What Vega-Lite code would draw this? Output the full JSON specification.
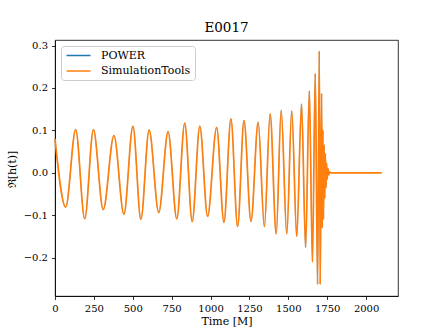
{
  "$schema": "https://vega.github.io/schema/vega-lite/v6.json",
  "autosize": "none",
  "width": 343,
  "height": 256,
  "padding": {"left": 55, "top": 40, "right": 45, "bottom": 36},
  "background": "white",
  "title": {"text": "E0017", "font": "DejaVu Serif", "fontSize": 13.5, "fontWeight": "normal", "color": "black", "offset": 6, "anchor": "middle"},
  "data": {"values": [
    {"t": 0, "POWER": 0.080, "SimulationTools": 0.080},
    {"t": 69, "POWER": -0.081, "SimulationTools": -0.081},
    {"t": 133, "POWER": 0.102, "SimulationTools": 0.102},
    {"t": 191, "POWER": -0.109, "SimulationTools": -0.109},
    {"t": 247, "POWER": 0.102, "SimulationTools": 0.102},
    {"t": 310, "POWER": -0.087, "SimulationTools": -0.087},
    {"t": 379, "POWER": 0.088, "SimulationTools": 0.088},
    {"t": 443, "POWER": -0.098, "SimulationTools": -0.098},
    {"t": 501, "POWER": 0.110, "SimulationTools": 0.110},
    {"t": 552, "POWER": -0.110, "SimulationTools": -0.110},
    {"t": 605, "POWER": 0.101, "SimulationTools": 0.101},
    {"t": 667, "POWER": -0.094, "SimulationTools": -0.094},
    {"t": 727, "POWER": 0.097, "SimulationTools": 0.097},
    {"t": 783, "POWER": -0.109, "SimulationTools": -0.109},
    {"t": 834, "POWER": 0.117, "SimulationTools": 0.117},
    {"t": 882, "POWER": -0.115, "SimulationTools": -0.115},
    {"t": 931, "POWER": 0.110, "SimulationTools": 0.110},
    {"t": 981, "POWER": -0.103, "SimulationTools": -0.103},
    {"t": 1039, "POWER": 0.107, "SimulationTools": 0.107},
    {"t": 1086, "POWER": -0.117, "SimulationTools": -0.117},
    {"t": 1131, "POWER": 0.127, "SimulationTools": 0.127},
    {"t": 1174, "POWER": -0.127, "SimulationTools": -0.127},
    {"t": 1215, "POWER": 0.123, "SimulationTools": 0.123},
    {"t": 1260, "POWER": -0.115, "SimulationTools": -0.115},
    {"t": 1306, "POWER": 0.119, "SimulationTools": 0.119},
    {"t": 1346, "POWER": -0.127, "SimulationTools": -0.127},
    {"t": 1383, "POWER": 0.139, "SimulationTools": 0.139},
    {"t": 1422, "POWER": -0.144, "SimulationTools": -0.144},
    {"t": 1454, "POWER": 0.147, "SimulationTools": 0.147},
    {"t": 1490, "POWER": -0.144, "SimulationTools": -0.144},
    {"t": 1522, "POWER": 0.146, "SimulationTools": 0.146},
    {"t": 1554, "POWER": -0.150, "SimulationTools": -0.150},
    {"t": 1585, "POWER": 0.162, "SimulationTools": 0.162},
    {"t": 1611, "POWER": -0.176, "SimulationTools": -0.176},
    {"t": 1635, "POWER": 0.193, "SimulationTools": 0.193},
    {"t": 1655, "POWER": -0.210, "SimulationTools": -0.210},
    {"t": 1673, "POWER": 0.234, "SimulationTools": 0.234},
    {"t": 1688, "POWER": -0.263, "SimulationTools": -0.263},
    {"t": 1699, "POWER": 0.287, "SimulationTools": 0.287},
    {"t": 1705, "POWER": -0.263, "SimulationTools": -0.263},
    {"t": 1714, "POWER": 0.187, "SimulationTools": 0.187},
    {"t": 1718, "POWER": -0.130, "SimulationTools": -0.130},
    {"t": 1722, "POWER": 0.100, "SimulationTools": 0.100},
    {"t": 1726, "POWER": -0.110, "SimulationTools": -0.110},
    {"t": 1730, "POWER": 0.066, "SimulationTools": 0.066},
    {"t": 1734, "POWER": -0.060, "SimulationTools": -0.060},
    {"t": 1738, "POWER": 0.045, "SimulationTools": 0.045},
    {"t": 1742, "POWER": -0.035, "SimulationTools": -0.035},
    {"t": 1746, "POWER": 0.022, "SimulationTools": 0.022},
    {"t": 1750, "POWER": -0.015, "SimulationTools": -0.015},
    {"t": 1755, "POWER": 0.010, "SimulationTools": 0.010},
    {"t": 1760, "POWER": -0.005, "SimulationTools": -0.005},
    {"t": 1766, "POWER": 0.002, "SimulationTools": 0.002},
    {"t": 1775, "POWER": 0.0, "SimulationTools": 0.0},
    {"t": 2100, "POWER": 0.0, "SimulationTools": 0.0}
  ]},
  "transform": [{"fold": ["POWER", "SimulationTools"], "as": ["series", "h"]}],
  "encoding": {
    "x": {"field": "t", "type": "quantitative",
      "scale": {"domain": [0, 2205], "nice": false, "zero": false},
      "axis": {"values": [0, 250, 500, 750, 1000, 1250, 1500, 1750, 2000], "format": "d", "labelFlush": false, "title": "Time [M]", "titleBaseline": "middle", "titleY": 25, "titleX": 171.5, "titleAlign": "center"}},
    "y": {"field": "h", "type": "quantitative",
      "scale": {"domain": [-0.2906, 0.3132], "nice": false, "zero": false},
      "axis": {"values": [-0.2, -0.1, 0.0, 0.1, 0.2, 0.3], "format": ".1f", "labelFlush": false, "title": "ℜ[h(t)]", "titleAngle": -90, "titleBaseline": "middle", "titleAlign": "center", "titleX": -43, "titleY": 129}},
    "color": {"field": "series", "type": "nominal",
      "scale": {"domain": ["POWER", "SimulationTools"], "range": ["#1f77b4", "#ff7f0e"]},
      "legend": {"title": null, "orient": "none", "legendX": 6, "legendY": 6, "symbolType": "M-1,0H5", "symbolSize": 64, "symbolStrokeWidth": 1.5, "symbolFillColor": "transparent", "labelFont": "DejaVu Serif", "labelFontSize": 11, "labelColor": "black", "labelOffset": 25, "padding": 4, "rowPadding": 3.5, "fillColor": "white", "strokeColor": "#cccccc", "cornerRadius": 3}}
  },
  "layer": [
    {"transform": [{"filter": "datum.series === 'POWER'"}], "mark": {"type": "line", "interpolate": "monotone", "strokeWidth": 0.4}},
    {"transform": [{"filter": "datum.series === 'SimulationTools'"}], "mark": {"type": "line", "interpolate": "monotone", "strokeWidth": 1.7}}
  ],
  "config": {
    "view": {"stroke": "black", "strokeWidth": 0.8},
    "axis": {"grid": false, "domainColor": "black", "domainWidth": 0.8, "tickColor": "black", "tickWidth": 0.8, "tickSize": 3.5, "labelFont": "DejaVu Serif", "labelFontSize": 10, "labelColor": "black", "labelPadding": 3.5, "titleFont": "DejaVu Serif", "titleFontSize": 11, "titleFontWeight": "normal", "titleColor": "black"},
    "axisY": {"labelPadding": 4}
  }
}
